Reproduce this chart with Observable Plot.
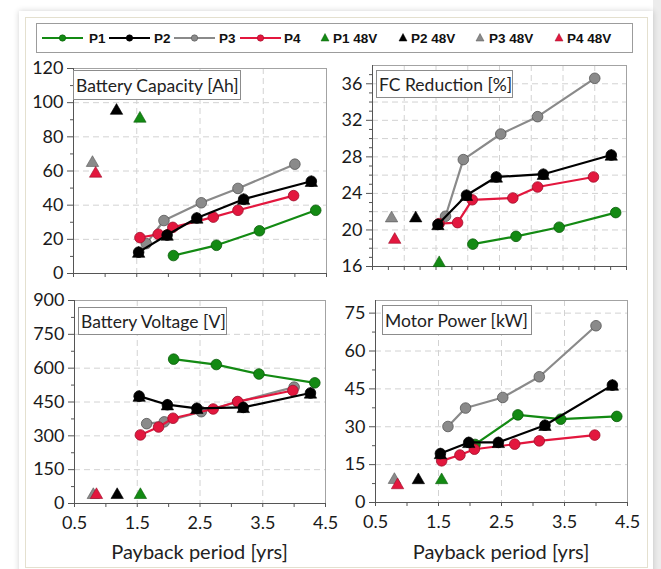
<!DOCTYPE html>
<html><head><meta charset="utf-8">
<script src="https://cdn.jsdelivr.net/npm/d3@7"></script>
<script src="https://cdn.jsdelivr.net/npm/@observablehq/plot@0.6"></script>
<style>
body{margin:0;background:#fff;}
#root{position:relative;width:661px;height:569px;overflow:hidden;font-family:Lato,sans-serif;background:#fff;}
.abs{position:absolute;box-sizing:border-box;}
.ptitle{position:absolute;box-sizing:border-box;border:1px solid #8c8c8c;background:#fff;font-family:Lato,sans-serif;font-size:17.5px;color:#222;display:flex;align-items:center;padding-left:2px;white-space:nowrap;}
.xlab{position:absolute;font-family:Lato,sans-serif;font-size:20px;color:#222;transform:translate(-50%,-50%);white-space:nowrap;}
.leg{position:absolute;font-family:"Liberation Sans Narrow","Arial Narrow","Liberation Sans",sans-serif;font-weight:bold;font-size:13.5px;color:#111;transform:translateY(-50%);white-space:nowrap;}
svg.sw{position:absolute;overflow:visible;}
</style></head><body><div id="root"></div>
<script>
// ---- data ----
const seriesNames = ["P1", "P2", "P3", "P4"];
const seriesFill = ["#138a13", "#000000", "#8a8a8a", "#e3173e"];
const seriesEdge = ["#0a5c0a", "#000000", "#555555", "#9e0f2b"];
const drawOrder = [0, 2, 3, 1];

const paybackP1 = [2.08, 2.76, 3.44, 4.33];
const paybackP2 = [1.53, 1.98, 2.45, 3.19, 4.26];
const paybackP3 = [1.65, 1.93, 2.52, 3.10, 4.00];
const paybackP4 = [1.55, 1.84, 2.07, 2.71, 3.10, 3.98];
const payback48V = [1.55, 1.18, 0.80, 0.85];

const capacityP1 = [10.5, 16.5, 25, 37];
const capacityP2 = [12.5, 22.5, 32.5, 43.5, 54];
const capacityP3 = [17.5, 31, 41.4, 49.8, 64];
const capacityP4 = [21, 23, 27, 33, 37, 45.6];
const capacity48V = [91.6, 96.2, 65.7, 59.4];

const fcP1 = [18.45, 19.3, 20.3, 21.9];
const fcP2 = [20.6, 23.8, 25.8, 26.1, 28.2];
const fcP3 = [21.5, 27.7, 30.5, 32.4, 36.6];
const fcP4 = [20.7, 20.8, 23.3, 23.5, 24.7, 25.8];
const fc48V = [16.55, 21.45, 21.45, 19.1];

const voltageP1 = [640, 616, 574, 535];
const voltageP2 = [476, 438, 422, 426, 490];
const voltageP3 = [354, 362, 407, 450, 516];
const voltageP4 = [304, 339, 378, 419, 452, 501];
const voltage48V = [45, 45, 45, 45];

const motorP1 = [23, 34.7, 33, 34.1];
const motorP2 = [19.4, 23.8, 23.8, 30.6, 46.5];
const motorP3 = [30.1, 37.4, 41.6, 49.8, 70];
const motorP4 = [16.5, 18.8, 21.1, 23.1, 24.4, 26.7];
const motor48V = [9.5, 9.5, 9.6, 7.5];

const panelTitles = ["Battery Capacity [Ah]", "FC Reduction [%]", "Battery Voltage [V]", "Motor Power [kW]"];
const xAxisTitle = "Payback period [yrs]";
const xTickLabels = [0.5, 1.5, 2.5, 3.5, 4.5];
const xTicksHalf = [0.5, 1, 1.5, 2, 2.5, 3, 3.5, 4, 4.5];
const xTicksQuarter = [0.5, 0.75, 1, 1.25, 1.5, 1.75, 2, 2.25, 2.5, 2.75, 3, 3.25, 3.5, 3.75, 4, 4.25, 4.5];
const capacityTicks = [0, 20, 40, 60, 80, 100, 120];
const capacityMinor = [10, 30, 50, 70, 90, 110];
const fcTicks = [16, 20, 24, 28, 32, 36];
const fcMinor = [17, 18, 19, 21, 22, 23, 25, 26, 27, 29, 30, 31, 33, 34, 35, 37];
const fcGrid = [18, 20, 22, 24, 26, 28, 30, 32, 34, 36];
const voltageTicks = [0, 150, 300, 450, 600, 750, 900];
const voltageMinor = [75, 225, 375, 525, 675, 825];
const motorTicks = [0, 15, 30, 45, 60, 75];
const motorMinor = [7.5, 22.5, 37.5, 52.5, 67.5];
const legendLabels48V = ["P1 48V", "P2 48V", "P3 48V", "P4 48V"];

// ---- layout ----
const root = document.getElementById("root");
function div(cls, css, text) {
  const d = document.createElement("div");
  d.className = cls;
  Object.assign(d.style, css);
  if (text != null) d.textContent = text;
  root.appendChild(d);
  return d;
}
div("abs", {left: "653px", top: "0px", width: "8px", height: "569px", background: "#ececec"});
div("abs", {left: "19px", top: "11px", width: "634px", height: "575px", background: "#fff", boxShadow: "0 0 6px rgba(0,0,0,0.18)"});
div("abs", {left: "25px", top: "17px", width: "623px", height: "551px", border: "1px solid #e4e0cf"});

const panels = [
  {title: panelTitles[0], yDomain: [0, 120], yTicks: capacityTicks, yMinor: capacityMinor, gridY: capacityTicks.slice(1, -1),
   gridX: [1.5, 2.5, 3.5], xTicks: xTicksHalf, showX: false, frame: [73, 326, 68, 273],
   vals: [capacityP1, capacityP2, capacityP3, capacityP4], v48: capacity48V, box: [73, 70, 168, 30]},
  {title: panelTitles[1], yDomain: [16, 38], yTicks: fcTicks, yMinor: fcMinor, gridY: fcGrid,
   gridX: [1, 1.5, 2, 2.5, 3, 3.5, 4], xTicks: xTicksQuarter, showX: false, frame: [372, 626, 65, 266],
   vals: [fcP1, fcP2, fcP3, fcP4], v48: fc48V, box: [376, 70, 137, 28]},
  {title: panelTitles[2], yDomain: [0, 900], yTicks: voltageTicks, yMinor: voltageMinor, gridY: voltageTicks.slice(1, -1),
   gridX: [1.5, 2.5, 3.5], xTicks: xTicksHalf, showX: true, frame: [74, 325, 300, 503],
   vals: [voltageP1, voltageP2, voltageP3, voltageP4], v48: voltage48V, box: [78, 307, 149, 28]},
  {title: panelTitles[3], yDomain: [0, 80], yTicks: motorTicks, yMinor: motorMinor, gridY: motorTicks.slice(1),
   gridX: [1.5, 2.5, 3.5], xTicks: xTicksHalf, showX: true, frame: [375, 627, 300, 502],
   vals: [motorP1, motorP2, motorP3, motorP4], v48: motor48V, box: [382, 305, 150, 30]}
];
const paybacks = [paybackP1, paybackP2, paybackP3, paybackP4];

for (const p of panels) {
  const [x0, x1, y0, y1] = p.frame;
  const grid = {stroke: "#d2d2d2", strokeOpacity: 1, strokeDasharray: "6,4"};
  const marks = [
    Plot.gridX(p.gridX, grid),
    Plot.gridY(p.gridY, grid),
    Plot.frame({stroke: "#a3a3a3"}),
    Plot.ruleX([0.5], {stroke: "#555"}),
    Plot.ruleY([p.yDomain[0]], {stroke: "#555"}),
    Plot.axisY(p.yTicks, {tickSize: 6, tickPadding: 4, fontSize: 18, label: null, stroke: "#555", fill: "#1a1a1a"}),
    Plot.axisY(p.yMinor, {tickSize: 3, tickFormat: () => "", label: null, stroke: "#555"}),
    Plot.axisX(p.xTicks, {tickSize: 4, tickPadding: 9, fontSize: 18, label: null, stroke: "#555", fill: "#1a1a1a",
      tickFormat: d => (p.showX && xTickLabels.includes(d)) ? String(d) : ""})
  ];
  for (const i of drawOrder) {
    const pts = paybacks[i].map((x, k) => ({x, y: p.vals[i][k]}));
    marks.push(Plot.line(pts, {x: "x", y: "y", stroke: seriesFill[i], strokeWidth: 2.2}));
    if (i === 1) marks.push(Plot.dot(pts, {x: "x", y: "y", symbol: "triangle", r: 4.6, dy: 1.6, fill: seriesFill[i], stroke: seriesEdge[i], strokeWidth: 0.6}));
    marks.push(Plot.dot(pts, {x: "x", y: "y", r: 5.3, fill: seriesFill[i], stroke: seriesEdge[i], strokeWidth: 0.8}));
  }
  for (const i of [2, 3, 1, 0]) {
    marks.push(Plot.dot([{x: payback48V[i], y: p.v48[i]}], {x: "x", y: "y", symbol: "triangle", r: 4.6, dy: 1.6,
      fill: seriesFill[i], stroke: seriesEdge[i], strokeWidth: 0.6}));
  }
  const svg = Plot.plot({
    width: 661, height: 569,
    marginLeft: x0, marginRight: 661 - x1, marginTop: y0, marginBottom: 569 - y1,
    x: {domain: [0.5, 4.5], axis: null},
    y: {domain: p.yDomain, axis: null},
    style: {position: "absolute", left: "0px", top: "0px", background: "transparent", overflow: "visible", fontFamily: "Lato, sans-serif", maxWidth: "none"},
    marks
  });
  root.appendChild(svg);
  const [bx, by, bw, bh] = p.box;
  div("ptitle", {left: bx + "px", top: by + "px", width: bw + "px", height: bh + "px"}, p.title);
  if (p.showX) div("xlab", {left: ((x0 + x1) / 2) + "px", top: "551px"}, xAxisTitle);
}

// ---- legend ----
div("abs", {left: "36px", top: "23px", width: "597px", height: "30px", border: "1.5px solid #9c9c9c", background: "#fff"});
const legY = 38;
const lineItems = [[42, 89], [109, 154], [174, 219], [240, 284]];
function sw(x, w, inner) {
  const s = document.createElementNS("http://www.w3.org/2000/svg", "svg");
  s.setAttribute("class", "sw");
  s.setAttribute("width", w); s.setAttribute("height", 16);
  s.style.left = x + "px"; s.style.top = (legY - 8) + "px";
  s.innerHTML = inner;
  root.appendChild(s);
}
seriesNames.forEach((name, i) => {
  const [lx, tx] = lineItems[i];
  sw(lx, 41, `<line x1="0" x2="41" y1="8" y2="8" stroke="${seriesFill[i]}" stroke-width="1.8"/><circle cx="20.5" cy="8" r="3.2" fill="${seriesFill[i]}" stroke="${seriesEdge[i]}" stroke-width="0.6"/>`);
  div("leg", {left: tx + "px", top: legY + "px"}, name);
});
const triItems = [[325, 333], [403, 411], [480, 489], [559, 567]];
legendLabels48V.forEach((name, i) => {
  const [cx, tx] = triItems[i];
  sw(cx - 5, 10, `<path d="M5,3.5 L9,11 L1,11 Z" fill="${seriesFill[i]}" stroke="${seriesEdge[i]}" stroke-width="0.5"/>`);
  div("leg", {left: tx + "px", top: legY + "px"}, name);
});
</script></body></html>
